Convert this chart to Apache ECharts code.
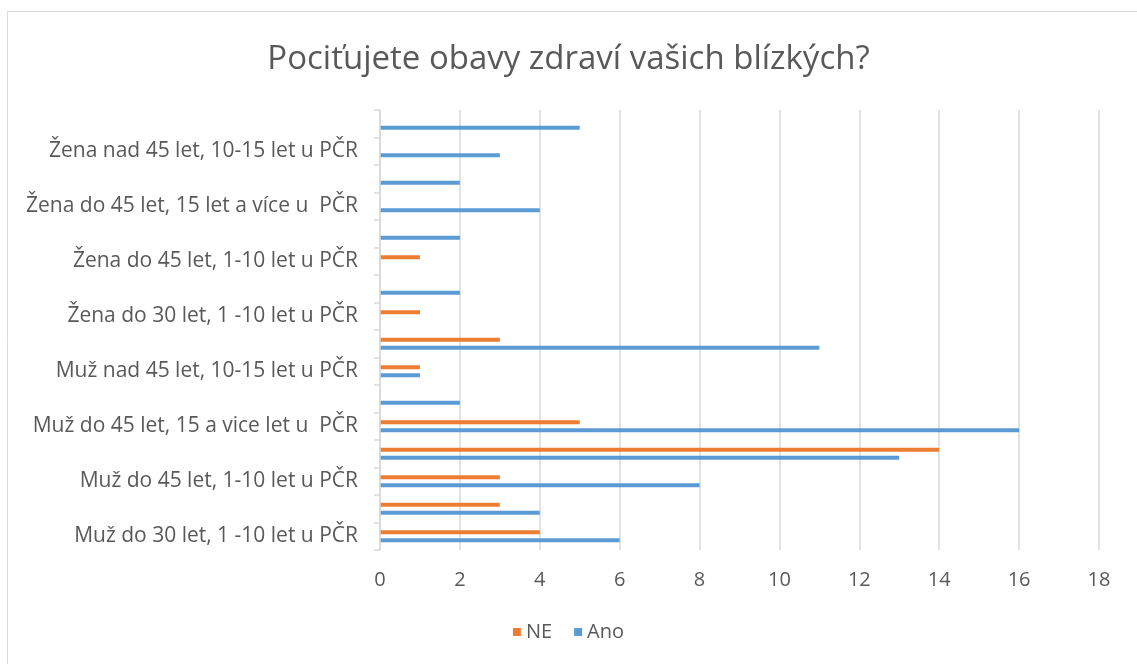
<!DOCTYPE html>
<html>
<head>
<meta charset="utf-8">
<script src="https://cdn.jsdelivr.net/npm/echarts@6/dist/echarts.min.js"></script>
<style>
  html, body { margin: 0; padding: 0; background: #fff; }
  #chart { width: 1137px; height: 664px; }
</style>
</head>
<body>
<div id="chart"></div>
<script>
// kategorie odspodu nahoru (skryté popisky jsou odhad)
var categories = [
  'Muž do 30 let, 1 -10 let u PČR',
  'Muž do 30 let, 10-15 let u PČR',
  'Muž do 45 let, 1-10 let u PČR',
  'Muž do 45 let, 10-15 let u PČR',
  'Muž do 45 let, 15 a vice let u  PČR',
  'Muž nad 45 let, 1-10 let u PČR',
  'Muž nad 45 let, 10-15 let u PČR',
  'Muž nad 45 let, 15 a více let u PČR',
  'Žena do 30 let, 1 -10 let u PČR',
  'Žena do 30 let, 10-15 let u PČR',
  'Žena do 45 let, 1-10 let u PČR',
  'Žena do 45 let, 10-15 let u PČR',
  'Žena do 45 let, 15 let a více u  PČR',
  'Žena nad 45 let, 1-10 let u PČR',
  'Žena nad 45 let, 10-15 let u PČR',
  'Žena nad 45 let, 15 let a více u PČR'
];
var ano = [6, 4, 8, 13, 16, 2, 1, 11, 0, 2, 0, 2, 4, 2, 3, 5];
var ne  = [4, 3, 3, 14, 5, 0, 1, 3, 1, 0, 1, 0, 0, 0, 0, 0];

var FONT = 'Open Sans';
var GREY = '#595959';
var BLUE = '#5B9BD5';
var ORANGE = '#ED7D31';

var myChart = echarts.init(document.getElementById('chart'));

var option = {
  backgroundColor: '#fff',
  animation: false,
  title: {
    text: 'Pociťujete obavy zdraví vašich blízkých?',
    left: 'center',
    top: 38,
    textStyle: { fontFamily: FONT, fontSize: 33, fontWeight: 'normal', color: GREY }
  },
  legend: {
    data: ['NE', 'Ano'],
    bottom: 17,
    left: 'center',
    icon: 'rect',
    itemWidth: 8,
    itemHeight: 8,
    itemGap: 22,
    textStyle: { fontFamily: FONT, fontSize: 20, color: GREY }
  },
  graphic: [{
    type: 'rect',
    shape: { x: 7.5, y: 11.5, width: 1200, height: 700 },
    style: { fill: 'none', stroke: '#d9d9d9', lineWidth: 1 },
    silent: true
  }],
  grid: { left: 380, right: 38, top: 110, bottom: 114 },
  xAxis: {
    type: 'value',
    min: 0,
    max: 18,
    interval: 2,
    axisLine: { show: false },
    axisTick: { show: false },
    axisLabel: { fontFamily: FONT, fontSize: 20, color: GREY, margin: 20 },
    splitLine: { lineStyle: { color: '#d9d9d9', width: 1.5 } }
  },
  yAxis: {
    type: 'category',
    data: categories,
    z: 10,
    axisLine: { lineStyle: { color: '#d9d9d9', width: 1.5 } },
    axisTick: { show: true, interval: 0, length: 6, lineStyle: { color: '#d9d9d9', width: 1.5 } },
    axisLabel: { interval: 1, fontFamily: FONT, fontSize: 21, color: GREY, margin: 22 }
  },
  series: [
    {
      name: 'NE',
      type: 'bar',
      data: ne,
      barWidth: 4,
      barGap: '100%',
      itemStyle: { color: ORANGE }
    },
    {
      name: 'Ano',
      type: 'bar',
      data: ano,
      barWidth: 4,
      barGap: '100%',
      itemStyle: { color: BLUE }
    }
  ]
};

myChart.setOption(option);
</script>
</body>
</html>
